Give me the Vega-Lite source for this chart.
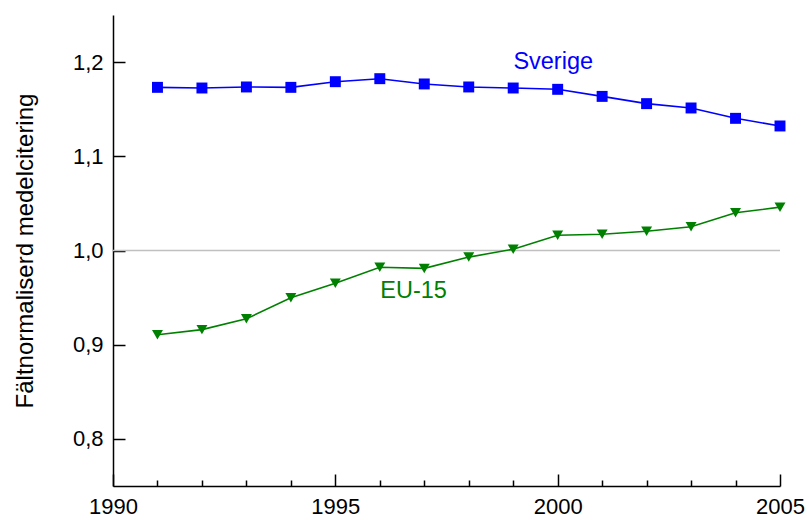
{
  "$schema": "https://vega.github.io/schema/vega-lite/v6.json",
  "width": 667,
  "height": 471,
  "autosize": "none",
  "padding": {"left": 113, "top": 15, "right": 29, "bottom": 34},
  "background": "white",
  "config": {
    "view": {"stroke": null},
    "font": "Liberation Sans",
    "axis": {"grid": false, "domainColor": "black", "tickColor": "black", "labelColor": "black", "titleColor": "black", "labelFont": "Liberation Sans", "titleFont": "Liberation Sans", "labelFontSize": 22, "titleFontSize": 24, "titleFontWeight": "normal", "domainWidth": 1.5, "tickWidth": 1.5}
  },
  "datasets": {
    "series": [
      {"year": 1991, "value": 1.1732, "series": "Sverige"},
      {"year": 1992, "value": 1.1725, "series": "Sverige"},
      {"year": 1993, "value": 1.1736, "series": "Sverige"},
      {"year": 1994, "value": 1.1732, "series": "Sverige"},
      {"year": 1995, "value": 1.1792, "series": "Sverige"},
      {"year": 1996, "value": 1.1824, "series": "Sverige"},
      {"year": 1997, "value": 1.1768, "series": "Sverige"},
      {"year": 1998, "value": 1.1736, "series": "Sverige"},
      {"year": 1999, "value": 1.1725, "series": "Sverige"},
      {"year": 2000, "value": 1.1711, "series": "Sverige"},
      {"year": 2001, "value": 1.1636, "series": "Sverige"},
      {"year": 2002, "value": 1.1559, "series": "Sverige"},
      {"year": 2003, "value": 1.1513, "series": "Sverige"},
      {"year": 2004, "value": 1.1403, "series": "Sverige"},
      {"year": 2005, "value": 1.1322, "series": "Sverige"},
      {"year": 1991, "value": 0.9105, "series": "EU-15"},
      {"year": 1992, "value": 0.916, "series": "EU-15"},
      {"year": 1993, "value": 0.9275, "series": "EU-15"},
      {"year": 1994, "value": 0.9498, "series": "EU-15"},
      {"year": 1995, "value": 0.9652, "series": "EU-15"},
      {"year": 1996, "value": 0.9822, "series": "EU-15"},
      {"year": 1997, "value": 0.981, "series": "EU-15"},
      {"year": 1998, "value": 0.993, "series": "EU-15"},
      {"year": 1999, "value": 1.0014, "series": "EU-15"},
      {"year": 2000, "value": 1.0162, "series": "EU-15"},
      {"year": 2001, "value": 1.0172, "series": "EU-15"},
      {"year": 2002, "value": 1.0205, "series": "EU-15"},
      {"year": 2003, "value": 1.0252, "series": "EU-15"},
      {"year": 2004, "value": 1.04, "series": "EU-15"},
      {"year": 2005, "value": 1.046, "series": "EU-15"}
    ],
    "labels": [
      {"year": 1999.9, "value": 1.2, "series": "Sverige"},
      {"year": 1996.76, "value": 0.957, "series": "EU-15"}
    ],
    "ref": [{"value": 1.0}]
  },
  "layer": [
    {
      "data": {"name": "ref"},
      "mark": {"type": "rule", "color": "#c0c0c0", "strokeWidth": 1.5},
      "encoding": {"y": {"field": "value", "type": "quantitative"}}
    },
    {
      "data": {"name": "series"},
      "mark": {"type": "line", "strokeWidth": 1.6},
      "encoding": {
        "x": {
          "field": "year", "type": "quantitative",
          "scale": {"domain": [1990, 2005], "nice": false, "zero": false},
          "axis": {
            "title": null,
            "values": [1990,1991,1992,1993,1994,1995,1996,1997,1998,1999,2000,2001,2002,2003,2004,2005],
            "labelExpr": "datum.value % 5 === 0 ? datum.label : ''",
            "format": "d",
            "tickSize": {"condition": {"test": "datum.value % 5 === 0", "value": -12}, "value": -6},
            "labelPadding": 22,
            "labelFlush": false,
            "labelOverlap": false
          }
        },
        "y": {
          "field": "value", "type": "quantitative",
          "scale": {"domain": [0.75, 1.25], "nice": false, "zero": false},
          "axis": {
            "title": "Fältnormaliserd medelcitering",
            "values": [0.8, 0.9, 1.0, 1.1, 1.2],
            "labelExpr": "replace(format(datum.value, '.1f'), '.', ',')",
            "tickSize": -12,
            "labelPadding": 22,
            "titlePadding": 35
          }
        },
        "color": {
          "field": "series", "type": "nominal",
          "scale": {"domain": ["Sverige", "EU-15"], "range": ["#0000ff", "#008000"]},
          "legend": null
        }
      }
    },
    {
      "data": {"name": "series"},
      "mark": {"type": "point", "filled": true, "opacity": 1, "size": 120},
      "encoding": {
        "x": {"field": "year", "type": "quantitative"},
        "y": {"field": "value", "type": "quantitative"},
        "color": {"field": "series", "type": "nominal", "legend": null},
        "shape": {"field": "series", "type": "nominal", "scale": {"domain": ["Sverige", "EU-15"], "range": ["square", "triangle-down"]}, "legend": null}
      }
    },
    {
      "data": {"name": "labels"},
      "mark": {"type": "text", "fontSize": 23.5, "font": "Liberation Sans", "align": "center", "baseline": "middle"},
      "encoding": {
        "x": {"field": "year", "type": "quantitative"},
        "y": {"field": "value", "type": "quantitative"},
        "text": {"field": "series"},
        "color": {"field": "series", "type": "nominal", "legend": null}
      }
    }
  ]
}
